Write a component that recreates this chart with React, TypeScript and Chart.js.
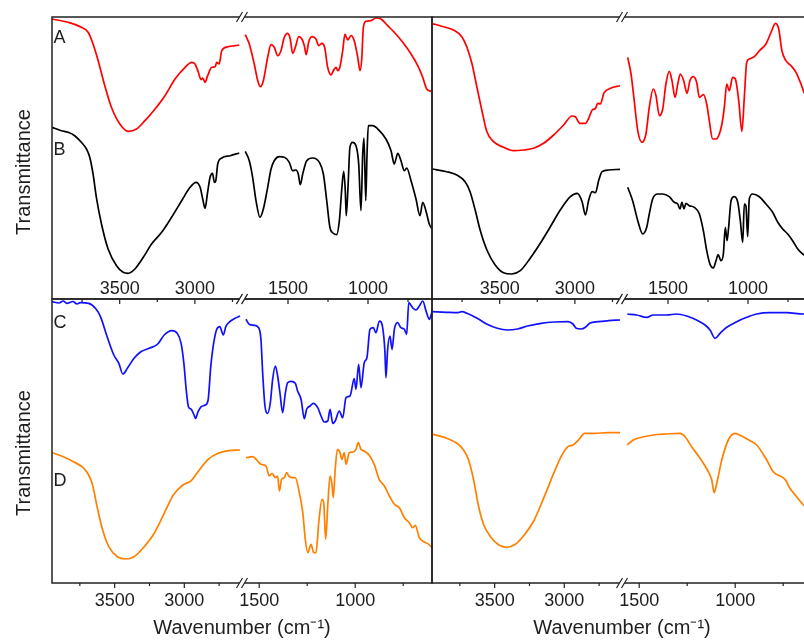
import React, { useEffect, useRef } from 'react';
import { Chart, registerables } from 'chart.js';

Chart.register(...registerables);

// ---------- data (wavenumber cm-1, transmittance in arbitrary offset units) ----------
const MAJOR_TICKS = [3500, 3000, 1500, 1000];
const MINOR_TICKS = [3750, 3250, 2750, 1250, 750];
const TICK_VALUES = [...MAJOR_TICKS, ...MINOR_TICKS];
const TICK_LABELS = TICK_VALUES.map((t) => (MAJOR_TICKS.includes(t) ? String(t) : ''));

// axis break ranges: [start, end] of the high and low wavenumber segments
const TOP_HIGH_RANGE = [3950, 2700];
const TOP_LOW_RANGE = [1800, 600];
const BOTTOM_HIGH_RANGE = [3950, 2600];
const BOTTOM_LOW_RANGE = [1600, 600];

// Panel A (top-left, red)
const A_HIGH = [[3950,280],[3843,276.7],[3755,271.7],[3710,266.7],[3677,255],[3643,238.3],[3599,213.3],[3555,191.7],[3499,175],[3443,167.7],[3388,170],[3332,178.3],[3265,190],[3199,203.3],[3132,220],[3065,231.7],[3021,236.7],[2999,235],[2977,226.7],[2959,219.3],[2948,221],[2932,216.7],[2915,223.3],[2888,231.7],[2865,232.3],[2855,236.7],[2839,235],[2821,248.3],[2777,252.3],[2732,253.3],[2705,254]];
const A_LOW = [[1767,264.3],[1742,255],[1711,235],[1689,218.3],[1673,212.3],[1654,218.3],[1627,241.7],[1606,254.3],[1586,251.7],[1564,243.3],[1544,248.3],[1523,261.7],[1502,265.7],[1486,260],[1471,245.7],[1454,251.7],[1433,262.3],[1413,260],[1398,253.3],[1386,244.3],[1371,256.7],[1350,262.3],[1325,260],[1308,253.3],[1288,255.7],[1271,251.7],[1252,231.7],[1231,224],[1217,228.3],[1200,231.7],[1189,228.3],[1175,232.3],[1158,248.3],[1144,265],[1127,259],[1106,263.3],[1086,258.3],[1064,241.7],[1050,228.3],[1039,240],[1029,271.7],[1013,277.7],[981,278.3],[950,281],[919,280],[877,273.3],[836,266.7],[783,256.7],[731,245],[689,233.3],[658,221.7],[633,210],[606,207.7]];
// Panel B (top-left, black)
const B_HIGH = [[3950,171.7],[3888,168.3],[3843,166.7],[3799,163.3],[3755,156.7],[3721,150],[3699,141.7],[3677,125],[3655,101.7],[3621,75],[3577,50],[3521,33.3],[3477,26.7],[3443,25.7],[3399,30],[3343,41.7],[3288,55],[3221,66.7],[3155,81.7],[3088,98.3],[3032,111.7],[2992,116.7],[2965,111.7],[2948,100],[2932,90.7],[2917,105],[2899,121.7],[2883,125.7],[2870,116.7],[2861,118.3],[2848,135],[2821,141],[2765,143.3],[2705,146]];
const B_LOW = [[1767,147.7],[1742,138.3],[1721,121.7],[1700,98.3],[1675,81.7],[1654,90],[1627,111.7],[1606,130],[1586,138.3],[1554,142.3],[1523,141.7],[1492,136.7],[1471,128.3],[1450,129],[1436,125],[1423,114.3],[1408,125],[1383,138.3],[1346,141],[1304,136.7],[1279,125],[1258,98.3],[1238,71.7],[1217,65.7],[1196,64.3],[1179,78.3],[1163,111.7],[1152,127.7],[1142,108.3],[1136,83.3],[1125,111.7],[1113,151.7],[1096,156.7],[1075,153.3],[1058,135],[1044,88.3],[1033,145],[1025,161],[1014,98.3],[1006,145],[998,173.3],[971,173.3],[929,168.3],[888,160],[856,148.3],[836,135],[814,145.7],[794,138.3],[773,128.3],[758,131],[731,118.3],[700,100],[675,83.3],[658,96.7],[638,88.3],[617,75],[600,70]];
// top-right, red
const A2_HIGH = [[3950,275.5],[3875,272.3],[3808,269],[3752,262.3],[3719,252.3],[3685,235.7],[3652,212.3],[3619,189],[3585,167.3],[3541,157.3],[3475,151.7],[3408,148.3],[3341,149],[3275,150.7],[3208,155.7],[3141,164],[3075,174],[3019,183],[2997,182.3],[2968,175.7],[2930,175.7],[2908,180.7],[2885,189],[2863,190.7],[2848,195.7],[2830,195],[2808,205.7],[2763,210.7],[2700,213.3]];
const A2_LOW = [[1752,241.7],[1731,225],[1711,198.3],[1689,168.3],[1663,156.7],[1638,165],[1617,191.7],[1592,210],[1575,203.3],[1554,183.3],[1533,190],[1513,215],[1492,227.7],[1475,218.3],[1456,201.7],[1439,215],[1423,225],[1402,218.3],[1381,205.7],[1363,218.3],[1342,222.3],[1321,216.7],[1304,201.7],[1279,204.3],[1258,195],[1242,178.3],[1221,160],[1200,160],[1179,165],[1163,175],[1148,191.7],[1133,215],[1117,208.3],[1096,221.7],[1079,220],[1058,198.3],[1038,167.7],[1023,201.7],[1008,236.7],[992,240],[961,242.3],[929,248.3],[888,255],[856,266.7],[829,275.7],[808,270],[788,248.3],[763,238.3],[731,233.3],[700,226.7],[669,215],[650,206.7],[625,200]];
// top-right, black
const B2_HIGH = [[3950,130],[3852,127.3],[3785,124],[3730,117.3],[3697,107.3],[3663,89],[3630,69],[3585,49],[3530,34],[3475,26.3],[3419,25],[3363,28.3],[3297,40.7],[3230,55.7],[3163,72.3],[3097,89],[3030,102.3],[2985,105.7],[2952,97.3],[2930,84],[2908,99],[2885,107.3],[2863,106.3],[2841,119],[2819,127.3],[2775,129],[2700,129.7]];
const B2_LOW = [[1752,111.7],[1721,98.3],[1689,78.3],[1658,65],[1633,71.7],[1617,85],[1596,100],[1564,105],[1533,105],[1492,102.3],[1461,96.7],[1439,95],[1425,90],[1413,96.7],[1400,90],[1388,95.7],[1367,93.3],[1336,91.7],[1304,85],[1279,68.3],[1258,48.3],[1238,35],[1217,31],[1200,38.3],[1186,44.3],[1169,38.3],[1154,45],[1142,71.7],[1131,58.3],[1121,71.7],[1106,98.3],[1086,102.3],[1064,96.7],[1048,78.3],[1033,56.7],[1023,95],[1013,93.3],[1002,62.3],[992,100],[971,105],[929,102.3],[888,95],[846,86.7],[814,76.7],[783,70],[752,65],[721,58.3],[689,50],[658,45],[625,42]];
// Panel C (bottom-left, blue)
const C_HIGH = [[3950,281.3],[3900,280],[3870,282],[3843,279.7],[3800,281.5],[3770,279],[3747,280.3],[3687,279.7],[3638,274.7],[3602,266.3],[3554,246.3],[3506,228],[3470,219.7],[3441,209],[3409,214.7],[3361,224.7],[3312,231.3],[3252,234.7],[3191,239],[3144,248],[3090,252.3],[3051,249.7],[3023,239.7],[3003,219.7],[2986,193],[2970,176.3],[2950,173.7],[2930,168],[2919,164.7],[2901,171.3],[2878,176.3],[2849,178],[2829,183],[2810,216.3],[2793,236.3],[2769,253],[2745,256.3],[2720,248],[2702,256.3],[2673,261.3],[2636,264.7],[2600,267]];
const C_LOW = [[1569,263.7],[1552,258.7],[1526,257.7],[1503,255.3],[1491,243.7],[1482,210.3],[1470,177],[1456,169.7],[1442,180.3],[1430,203.7],[1416,217],[1404,207],[1392,190.3],[1378,170.3],[1364,189.7],[1352,200.3],[1334,201.7],[1312,199.7],[1300,192],[1282,183.7],[1265,164.3],[1253,173.7],[1235,177],[1218,179.7],[1195,175.3],[1178,167],[1161,161],[1143,162],[1131,173.7],[1117,159.7],[1104,162],[1083,172],[1065,165.3],[1048,185.3],[1027,187],[1005,204.3],[996,193.7],[982,218.7],[970,195.3],[953,220.3],[939,225.3],[923,253.7],[906,255.3],[892,250.3],[874,262],[857,255.3],[845,230.3],[840,205.3],[831,233.7],[819,247],[808,233.7],[796,253.7],[779,260.3],[762,255.3],[744,253.7],[732,248.7],[721,280.3],[701,275.3],[683,273],[666,277],[648,282],[631,272],[614,263.7],[600,271]];
// Panel D (bottom-left, orange)
const D_HIGH = [[3950,130.3],[3868,126.3],[3796,121.3],[3735,116.3],[3694,109.7],[3662,99.7],[3626,76.3],[3590,54.7],[3542,36.3],[3481,26.3],[3421,24],[3361,26.3],[3288,36.3],[3216,49.7],[3144,69.7],[3079,88],[3010,98],[2950,102.3],[2902,111.3],[2829,123.7],[2757,129.7],[2684,132.3],[2600,133]];
const D_LOW = [[1569,125.3],[1534,126.3],[1508,122],[1491,118.7],[1465,117],[1447,107],[1433,109.7],[1416,105.3],[1404,107],[1395,92],[1383,103.7],[1369,105.3],[1357,110.3],[1343,106.3],[1326,105.3],[1312,105.3],[1291,90.3],[1273,70.3],[1260,43.7],[1247,30.3],[1230,38.7],[1216,30.3],[1204,30.3],[1190,60.3],[1173,83.7],[1164,80.3],[1154,43.7],[1142,80.3],[1131,107],[1122,100.3],[1114,85.3],[1104,113.7],[1093,133.7],[1079,130.3],[1069,123.7],[1057,130.3],[1048,118.7],[1031,130.3],[1010,131],[996,133.7],[984,140.3],[970,133.7],[953,132],[927,127.7],[901,118.7],[875,103.7],[848,97],[822,87],[796,78.7],[770,75.3],[744,65.3],[718,60.3],[701,55.3],[687,57.7],[666,45.3],[640,41],[617,38.7],[600,35.3]];
// bottom-right, blue
const C2_HIGH = [[3950,271.3],[3843,270.7],[3771,270.3],[3735,271.3],[3699,269.7],[3626,264.7],[3554,258.7],[3481,254.7],[3409,253],[3336,254],[3264,257],[3167,259.7],[3071,261],[2974,261.3],[2938,259],[2914,254.7],[2878,254],[2849,255.7],[2817,259.7],[2757,261.3],[2684,262.3],[2600,263]];
const C2_LOW = [[1562,269],[1513,268],[1461,265.7],[1427,268],[1357,268],[1305,269],[1253,267],[1201,263],[1157,258],[1131,253],[1105,244.7],[1079,249.7],[1044,255.7],[992,261.3],[940,265.7],[888,269],[819,270.3],[732,270.3],[645,269],[610,269]];
// bottom-right, orange
const D2_HIGH = [[3950,149],[3843,144.7],[3771,139.7],[3723,133],[3687,123],[3651,103],[3615,76.3],[3578,58],[3530,46.3],[3470,38],[3414,35.7],[3349,39],[3288,48],[3216,63],[3144,86.3],[3071,111.3],[3023,126.3],[2974,136.3],[2938,138],[2902,142.3],[2854,149.7],[2781,149.7],[2684,150.3],[2600,150.3]];
const D2_LOW = [[1562,138],[1531,143],[1487,145.7],[1427,148],[1357,149],[1288,149.7],[1261,146.3],[1227,136.3],[1183,124.7],[1145,113],[1122,103],[1110,90.3],[1096,99.7],[1070,123],[1036,143],[1001,149.7],[966,147],[923,142.3],[888,138],[836,123],[802,111.3],[741,103.7],[715,94.7],[680,86.3],[645,78],[610,73]];

// ---------- styling ----------
const FONT = '"Liberation Sans", Arial, Helvetica, sans-serif';
const TEXT_COLOR = '#1e1e1e';
const AXIS_COLOR = '#222222';
const RED = '#ff0000';
const BLACK = '#000000';
const BLUE = '#1010ff';
const ORANGE = '#ff8000';
const SEG_HIGH = 188; // virtual width of the high-wavenumber segment
const SEG_LOW = 192; // virtual width of the low-wavenumber segment

type Brk = { high: number[]; low: number[] };

function toV(wn: number, brk: Brk): number {
  const mid = (brk.high[1] + brk.low[0]) / 2;
  if (wn >= mid) return ((brk.high[0] - wn) / (brk.high[0] - brk.high[1])) * SEG_HIGH;
  return SEG_HIGH + ((brk.low[0] - wn) / (brk.low[0] - brk.low[1])) * SEG_LOW;
}

const decorPlugin = {
  id: 'decor',
  afterDraw(chart: any, _args: any, opts: any) {
    const { ctx, chartArea: ca, scales } = chart;
    const xs = scales.x;
    const ys = scales.y;
    const brk: Brk = opts.brk;
    ctx.save();
    ctx.strokeStyle = AXIS_COLOR;
    ctx.lineWidth = 1.5;
    ctx.strokeRect(ca.left, ca.top, ca.right - ca.left, ca.bottom - ca.top);
    ctx.beginPath();
    for (const t of MAJOR_TICKS) {
      const px = xs.getPixelForValue(toV(t, brk));
      ctx.moveTo(px, ca.bottom);
      ctx.lineTo(px, ca.bottom + 5);
    }
    for (const t of MINOR_TICKS) {
      const px = xs.getPixelForValue(toV(t, brk));
      ctx.moveTo(px, ca.bottom);
      ctx.lineTo(px, ca.bottom + 3);
    }
    ctx.lineWidth = 1.2;
    ctx.stroke();
    // axis break marks
    const bx = xs.getPixelForValue(SEG_HIGH) + 2;
    for (const by of [ca.top, ca.bottom]) {
      ctx.fillStyle = '#ffffff';
      ctx.beginPath();
      ctx.moveTo(bx - 5.5, by + 5);
      ctx.lineTo(bx + 0.5, by - 5);
      ctx.lineTo(bx + 5.5, by - 5);
      ctx.lineTo(bx - 0.5, by + 5);
      ctx.closePath();
      ctx.fill();
      ctx.beginPath();
      ctx.moveTo(bx - 5.5, by + 5);
      ctx.lineTo(bx + 0.5, by - 5);
      ctx.moveTo(bx - 0.5, by + 5);
      ctx.lineTo(bx + 5.5, by - 5);
      ctx.lineWidth = 1.2;
      ctx.strokeStyle = AXIS_COLOR;
      ctx.stroke();
    }
    // panel letters
    ctx.fillStyle = TEXT_COLOR;
    ctx.font = `18px ${FONT}`;
    ctx.textAlign = 'left';
    ctx.textBaseline = 'middle';
    for (const l of opts.letters || []) {
      ctx.fillText(l.text, ca.left + 1.5, ys.getPixelForValue(l.at));
    }
    // y title
    if (opts.yTitle) {
      ctx.save();
      ctx.translate(opts.yTitleX, opts.yTitleY);
      ctx.rotate(-Math.PI / 2);
      ctx.textAlign = 'center';
      ctx.textBaseline = 'middle';
      ctx.font = `20px ${FONT}`;
      ctx.fillText(opts.yTitle, 0, 0);
      ctx.restore();
    }
    ctx.restore();
  },
};

type PanelProps = {
  left: number;
  top: number;
  width: number;
  height: number;
  pad: { left: number; top: number; right: number; bottom: number };
  axisH: number;
  yMax: number;
  brk: Brk;
  series: { data: number[][]; color: string }[];
  letters: { text: string; at: number }[];
  isTop: boolean;
  yTitle?: string;
  yTitleY?: number;
};

function Panel(p: PanelProps) {
  const ref = useRef<HTMLCanvasElement>(null);
  useEffect(() => {
    const chart = new Chart(ref.current as HTMLCanvasElement, {
      type: 'line',
      data: {
        datasets: p.series.map((s) => ({
          data: s.data.map(([wn, t]) => ({ x: toV(wn, p.brk), y: t })),
          borderColor: s.color,
          borderWidth: 1.7,
          pointRadius: 0,
          fill: false,
          cubicInterpolationMode: 'monotone' as const,
        })),
      },
      options: {
        animation: false,
        responsive: false,
        maintainAspectRatio: false,
        events: [],
        layout: { padding: p.pad },
        plugins: {
          legend: { display: false },
          tooltip: { enabled: false },
          decor: {
            brk: p.brk,
            letters: p.letters,
            yTitle: p.yTitle,
            yTitleX: 24,
            yTitleY: p.yTitleY,
          },
        } as any,
        scales: {
          x: {
            type: 'linear',
            min: 0,
            max: SEG_HIGH + SEG_LOW,
            position: 'bottom',
            afterBuildTicks: (s: any) => {
              s.ticks = TICK_VALUES.map((wn) => ({ value: toV(wn, p.brk) }));
            },
            afterFit: (s: any) => {
              s.height = p.axisH;
            },
            ticks: {
              autoSkip: false,
              maxRotation: 0,
              minRotation: 0,
              mirror: p.isTop,
              padding: p.isTop ? -1 : 7,
              color: TEXT_COLOR,
              font: { family: FONT, size: 18 },
              callback: (_v: any, i: number) => TICK_LABELS[i],
            },
            grid: { display: false, drawTicks: false },
            border: { display: false },
            title: {
              display: !p.isTop,
              text: 'Wavenumber (cm\u207B\u00B9)',
              color: TEXT_COLOR,
              font: { family: FONT, size: 20 },
              padding: { top: 0, bottom: 1 },
            },
          },
          y: { type: 'linear', display: false, min: 0, max: p.yMax },
        },
      } as any,
      plugins: [decorPlugin],
    });
    return () => chart.destroy();
  }, []);
  return (
    <canvas
      ref={ref}
      width={p.width}
      height={p.height}
      style={{ position: 'absolute', left: p.left, top: p.top, width: p.width, height: p.height }}
    />
  );
}

const TOP_BRK: Brk = { high: TOP_HIGH_RANGE, low: TOP_LOW_RANGE };
const BOTTOM_BRK: Brk = { high: BOTTOM_HIGH_RANGE, low: BOTTOM_LOW_RANGE };

export default function App() {
  return (
    <div
      style={{
        position: 'absolute',
        left: 0,
        top: 0,
        width: 804,
        height: 641,
        overflow: 'hidden',
        background: '#ffffff',
      }}
    >
      <Panel
        left={0}
        top={0}
        width={440}
        height={310}
        pad={{ left: 52, top: 17, right: 8, bottom: 0 }}
        axisH={11}
        yMax={282}
        brk={TOP_BRK}
        isTop
        series={[
          { data: A_HIGH, color: RED },
          { data: A_LOW, color: RED },
          { data: B_HIGH, color: BLACK },
          { data: B_LOW, color: BLACK },
        ]}
        letters={[
          { text: 'A', at: 260.5 },
          { text: 'B', at: 149 },
        ]}
        yTitle="Transmittance"
        yTitleY={172}
      />
      <Panel
        left={420}
        top={0}
        width={400}
        height={310}
        pad={{ left: 12, top: 17, right: 8, bottom: 0 }}
        axisH={11}
        yMax={282}
        brk={TOP_BRK}
        isTop
        series={[
          { data: A2_HIGH, color: RED },
          { data: A2_LOW, color: RED },
          { data: B2_HIGH, color: BLACK },
          { data: B2_LOW, color: BLACK },
        ]}
        letters={[]}
      />
      <Panel
        left={0}
        top={290}
        width={440}
        height={351}
        pad={{ left: 52, top: 9, right: 8, bottom: 0 }}
        axisH={58}
        yMax={284}
        brk={BOTTOM_BRK}
        isTop={false}
        series={[
          { data: C_HIGH, color: BLUE },
          { data: C_LOW, color: BLUE },
          { data: D_HIGH, color: ORANGE },
          { data: D_LOW, color: ORANGE },
        ]}
        letters={[
          { text: 'C', at: 260 },
          { text: 'D', at: 102 },
        ]}
        yTitle="Transmittance"
        yTitleY={163}
      />
      <Panel
        left={420}
        top={290}
        width={400}
        height={351}
        pad={{ left: 12, top: 9, right: 8, bottom: 0 }}
        axisH={58}
        yMax={284}
        brk={BOTTOM_BRK}
        isTop={false}
        series={[
          { data: C2_HIGH, color: BLUE },
          { data: C2_LOW, color: BLUE },
          { data: D2_HIGH, color: ORANGE },
          { data: D2_LOW, color: ORANGE },
        ]}
        letters={[]}
      />
    </div>
  );
}
